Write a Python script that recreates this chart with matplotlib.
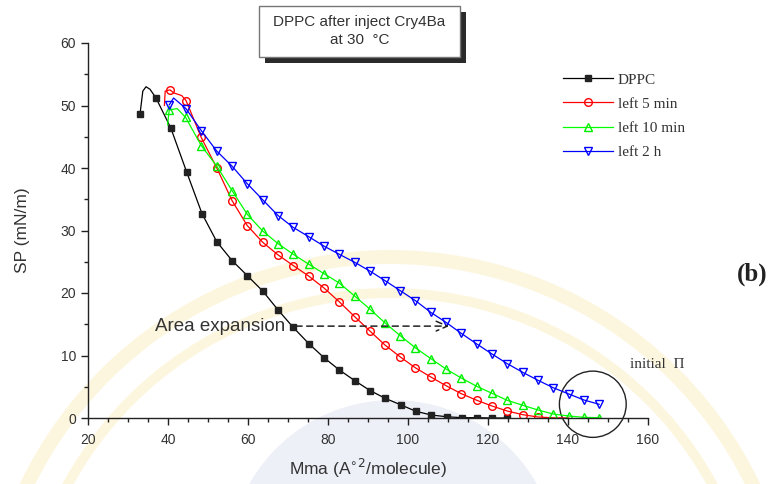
import matplotlib
matplotlib.use("Agg")
import matplotlib.pyplot as plt
from matplotlib.lines import Line2D
from matplotlib.patches import Rectangle, Ellipse, Wedge, Circle
from matplotlib.transforms import IdentityTransform

# isotherm data (Mma in A^2/molecule, SP in mN/m)
dppc_x = [33.0, 33.7, 34.5, 35.5, 37.0, 40.7, 44.7, 48.5, 52.2, 56.0, 59.8, 63.7, 67.5, 71.3,
          75.2, 79.0, 82.8, 86.7, 90.5, 94.3, 98.2, 102.0, 105.8, 109.7, 113.5, 117.3, 121.1, 124.8]
dppc_y = [48.6, 52.3, 53.0, 52.6, 51.2, 46.4, 39.3, 32.7, 28.2, 25.2, 22.8, 20.3, 17.3, 14.5,
          11.9, 9.65, 7.7, 5.97, 4.4, 3.15, 2.1, 1.07, 0.48, 0.2, 0.05, 0.05, 0.0, 0.0]
dppc_marks = [0] + list(range(4, len(dppc_x)))

red_x = [39.1, 39.3, 40.5, 41.5, 43.4, 44.5, 48.3, 52.2, 56.0, 59.8, 63.7, 67.5, 71.3, 75.2, 79.0,
         82.8, 86.7, 90.5, 94.2, 98.0, 101.8, 105.7, 109.5, 113.3, 117.2, 121.0, 124.8, 128.7,
         132.5, 136.3, 140.2]
red_y = [50.0, 52.3, 52.5, 52.0, 51.6, 50.8, 44.9, 40.0, 34.8, 30.8, 28.1, 26.1, 24.4, 22.7, 20.8,
         18.6, 16.2, 13.9, 11.7, 9.8, 8.05, 6.56, 5.17, 3.9, 2.83, 1.92, 1.12, 0.53,
         0.16, 0.03, 0.0]
red_marks = [2, 5] + list(range(6, 29))

green_x = [39.9, 40.3, 42.3, 44.4, 48.3, 52.2, 56.0, 59.8, 63.7, 67.5, 71.3, 75.2, 79.0, 82.8,
           86.7, 90.5, 94.2, 98.0, 101.8, 105.7, 109.5, 113.3, 117.2, 121.0, 124.8, 128.7, 132.5,
           136.3, 140.2, 144.0, 147.8]
green_y = [46.9, 49.3, 49.5, 48.1, 43.6, 40.3, 36.4, 32.6, 29.9, 27.9, 26.2, 24.6, 23.1, 21.6,
           19.5, 17.4, 15.25, 13.2, 11.25, 9.5, 7.84, 6.4, 5.07, 3.95, 2.83, 2.03, 1.28,
           0.64, 0.32, 0.1, 0.05]
green_marks = [1] + list(range(3, len(green_x)))

blue_x = [40.3, 41.4, 44.5, 48.3, 52.2, 56.0, 59.8, 63.7, 67.5, 71.3, 75.2, 79.0, 82.8, 86.7,
          90.5, 94.2, 98.0, 101.8, 105.7, 109.5, 113.3, 117.2, 121.0, 124.8, 128.7, 132.5, 136.3,
          140.2, 144.0, 147.8]
blue_y = [50.1, 51.2, 49.5, 46.0, 42.7, 40.3, 37.5, 34.9, 32.4, 30.5, 29.0, 27.5, 26.2, 24.9,
          23.5, 22.0, 20.4, 18.8, 16.9, 15.3, 13.55, 11.84, 10.24, 8.7, 7.3, 6.03, 4.85,
          3.84, 2.88, 2.19]
blue_marks = [0] + list(range(2, len(blue_x)))

labels = ["DPPC", "left 5 min", "left 10 min", "left 2 h"]

plt.rcParams["font.family"] = ["Liberation Sans", "DejaVu Sans"]
serif = ["Liberation Serif", "DejaVu Serif"]
txt = "#333333"

fig = plt.figure(figsize=(7.72, 4.84), dpi=100)

# faint watermark behind the plot
px = IdentityTransform()
fig.add_artist(Circle((393, 484 - 565), 165, color="#eef0f8", lw=0, transform=px, zorder=-5))
for r, w in [(410, 14), (372, 10)]:
    fig.add_artist(Wedge((390, 484 - 660), r, 0, 180, width=w, color="#fdf6df", lw=0,
                         transform=px, zorder=-4))

ax = fig.add_axes([88 / 772, 1 - 418 / 484, 560 / 772, 375 / 484])
ax.set_facecolor("none")

ax.plot(dppc_x, dppc_y, color="black", lw=0.9, marker="s", ms=4.8, mfc="#222222", mec="#222222",
        markevery=dppc_marks)
ax.plot(red_x, red_y, color="red", lw=0.9, marker="o", ms=5.5, mfc="none", mec="red",
        markevery=red_marks)
ax.plot(green_x, green_y, color="#00ff00", lw=0.9, marker="^", ms=6, mfc="none", mec="#00ee00",
        markevery=green_marks)
ax.plot(blue_x, blue_y, color="blue", lw=0.9, marker="v", ms=6, mfc="none", mec="blue",
        markevery=blue_marks)

ax.set_xlim(20, 160)
ax.set_ylim(0, 60)
ax.set_xticks(range(20, 161, 20))
ax.set_xticks(range(20, 161, 5), minor=True)
ax.set_yticks(range(0, 61, 10))
ax.set_yticks(range(0, 61, 5), minor=True)
for s in ["top", "right"]:
    ax.spines[s].set_visible(False)
for s in ["left", "bottom"]:
    ax.spines[s].set_color("#222222")
    ax.spines[s].set_linewidth(1.0)
ax.tick_params(which="major", direction="out", length=5, width=1, color="#222222",
               labelsize=10, labelcolor=txt)
ax.tick_params(which="minor", direction="out", length=3, width=1, color="#222222")
ax.tick_params(axis="x", which="major", pad=6)

ax.set_xlabel(r"Mma (A$^{\circ 2}$/molecule)", fontsize=12.5, color=txt, labelpad=7)
ax.set_ylabel("SP (mN/m)", fontsize=12.5, color=txt, labelpad=22)

# area expansion arrow
ax.annotate("", xy=(110.3, 14.7), xytext=(72.0, 14.7),
            arrowprops=dict(arrowstyle="->,head_length=0.8,head_width=0.35", ls=(0, (4, 3)),
                            color="#222222", lw=1.1, shrinkA=0, shrinkB=0))
ax.text(69.3, 14.7, "Area expansion", ha="right", va="center", fontsize=13.5, color=txt)

# initial pressure circle
ax.add_patch(Ellipse((146.2, 2.2), 16.7, 10.6, fill=False, ec="#222222", lw=1.0, clip_on=False))
fig.text(630 / 772, 1 - 364 / 484, "initial  \u03a0", family=serif, fontsize=11, color=txt,
         ha="left", va="center")

# legend
handles = [
    Line2D([], [], color="black", lw=0.9, marker="s", ms=4.8, mfc="#222222", mec="#222222"),
    Line2D([], [], color="red", lw=0.9, marker="o", ms=5.5, mfc="none", mec="red"),
    Line2D([], [], color="#00ff00", lw=0.9, marker="^", ms=6, mfc="none", mec="#00ee00"),
    Line2D([], [], color="blue", lw=0.9, marker="v", ms=6, mfc="none", mec="blue"),
]
fig.legend(handles, labels, loc="upper left", bbox_to_anchor=(563 / 772, 1 - 73 / 484),
           frameon=False, handlelength=3.3, handletextpad=0.3, labelspacing=0.68, numpoints=1,
           prop=dict(family=serif, size=11), labelcolor=txt, borderaxespad=0, borderpad=0)

# title box with shadow
fig.add_artist(Rectangle((265 / 772, 1 - 63 / 484), 201 / 772, 51 / 484, color="#2a2a2a",
                         lw=0, transform=fig.transFigure))
fig.add_artist(Rectangle((259 / 772, 1 - 57 / 484), 201 / 772, 51 / 484, fc="white",
                         ec="#777777", lw=1.0, transform=fig.transFigure))
fig.text(359.5 / 772, 1 - 31 / 484, "DPPC after inject Cry4Ba\nat 30  \u00b0C", ha="center",
         va="center", fontsize=11, color=txt, linespacing=1.45)

fig.text(752 / 772, 1 - 274 / 484, "(b)", family=serif, fontsize=18, fontweight="bold",
         color="#222222", ha="center", va="center")

fig.savefig("out.png", dpi=100)
